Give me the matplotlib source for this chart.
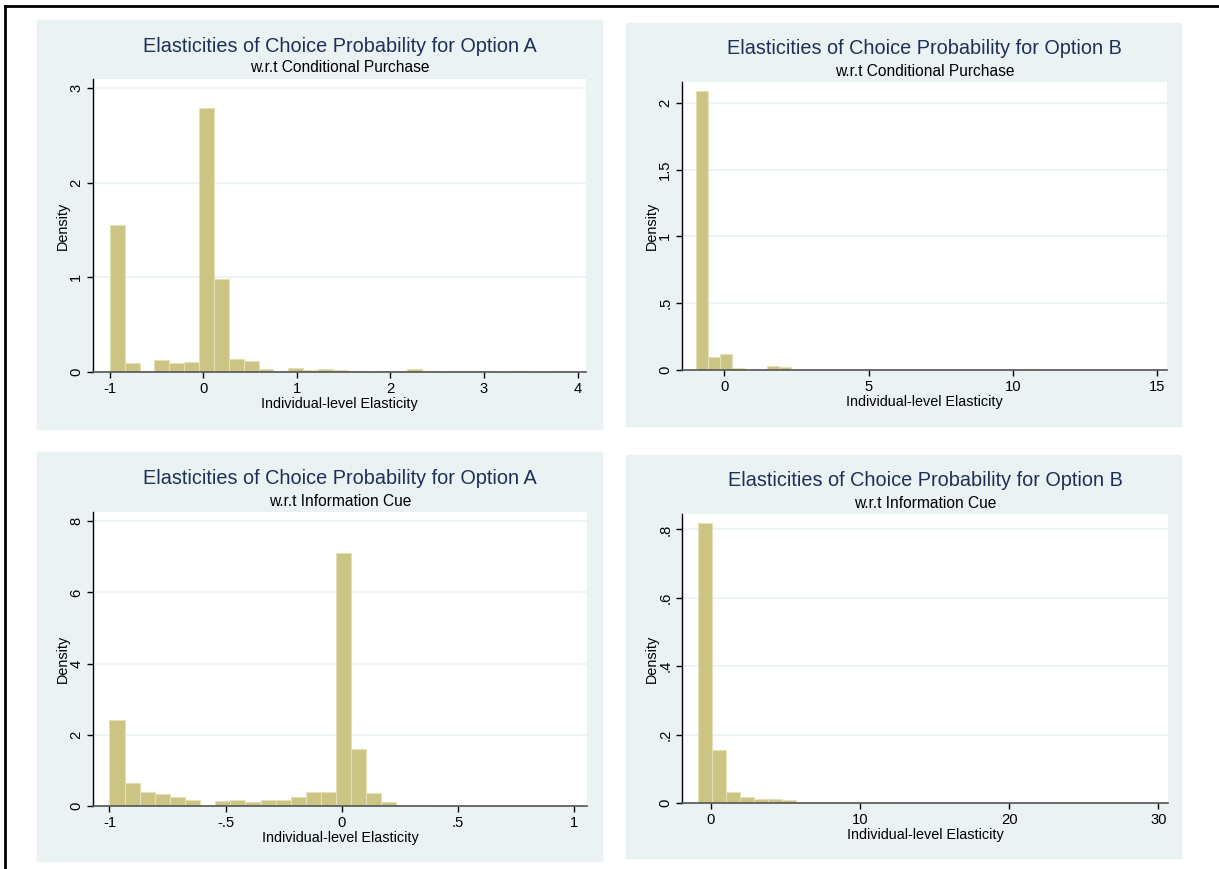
import matplotlib.pyplot as plt
import numpy as np
from matplotlib.patches import Rectangle
from matplotlib.lines import Line2D

plt.rcParams['font.family'] = ['Liberation Sans', 'DejaVu Sans']

W, H = 1219, 869

# ---- data ----
titles = ["Elasticities of Choice Probability for Option A",
          "Elasticities of Choice Probability for Option B",
          "Elasticities of Choice Probability for Option A",
          "Elasticities of Choice Probability for Option B"]
subtitles = ["w.r.t Conditional Purchase", "w.r.t Conditional Purchase",
             "w.r.t Information Cue", "w.r.t Information Cue"]

# histogram bins: start, width (31 bins each)
bin_start = [-1.0, -0.97, -1.0, -0.84]
bin_width = [0.159, 0.41, 0.065, 0.94]

dens_a_purchase = [1.556, 0.095, 0.01, 0.123, 0.092, 0.106, 2.79, 0.979, 0.134, 0.113,
                   0.028, 0.01, 0.039, 0.018, 0.028, 0.018, 0.014, 0, 0.01, 0.01,
                   0.03, 0.012, 0, 0.008, 0.008, 0.008, 0, 0.01, 0.005, 0, 0.01]
dens_b_purchase = [2.09, 0.10, 0.12, 0.017, 0.0075, 0.002, 0.027, 0.022, 0.002, 0.002,
                   0.002, 0.002, 0.002, 0, 0, 0, 0, 0, 0, 0,
                   0.002, 0.002, 0, 0.002, 0, 0, 0, 0, 0.01, 0.002, 0.002]
dens_a_cue = [2.43, 0.66, 0.39, 0.34, 0.25, 0.17, 0.025, 0.15, 0.18, 0.12,
              0.16, 0.16, 0.24, 0.385, 0.385, 7.10, 1.59, 0.37, 0.10, 0.035,
              0.02, 0.01, 0, 0.008, 0.01, 0.004, 0, 0, 0, 0, 0.01]
dens_b_cue = [0.818, 0.156, 0.032, 0.0185, 0.0117, 0.0117, 0.008, 0.0015, 0.0015, 0.0015,
              0, 0.0015, 0.0015, 0, 0, 0, 0, 0, 0, 0,
              0, 0, 0, 0, 0, 0, 0.0015, 0, 0.0015, 0.0015, 0.0015]
densities = [dens_a_purchase, dens_b_purchase, dens_a_cue, dens_b_cue]

xticks = [[-1, 0, 1, 2, 3, 4], [0, 5, 10, 15], [-1, -0.5, 0, 0.5, 1], [0, 10, 20, 30]]
xticklabels = [["-1", "0", "1", "2", "3", "4"], ["0", "5", "10", "15"],
               ["-1", "-.5", "0", ".5", "1"], ["0", "10", "20", "30"]]
yticks = [[0, 1, 2, 3], [0, 0.5, 1, 1.5, 2], [0, 2, 4, 6, 8], [0, 0.2, 0.4, 0.6, 0.8]]
yticklabels = [["0", "1", "2", "3"], ["0", ".5", "1", "1.5", "2"],
               ["0", "2", "4", "6", "8"], ["0", ".2", ".4", ".6", ".8"]]
xlims = [(-1.18, 4.09), (-1.46, 15.33), (-1.071, 1.055), (-1.92, 30.65)]
ylims = [(0, 3.095), (0, 2.155), (0, 8.26), (0, 0.845)]

# ---- layout in pixels ----
panels = [(37, 20, 602, 429), (626, 23, 1181, 426), (37, 452, 602, 861), (626, 455, 1181, 858)]
plots = [(93, 79, 586, 372), (682, 82, 1167, 370), (93, 512, 587, 806), (682, 514, 1168, 803)]

bg = '#eaf2f3'
bar_color = '#cbc482'
title_color = '#1e2f5a'

fig = plt.figure(figsize=(W / 100, H / 100), dpi=100)


def fx(x):
    return x / W


def fy(y):
    return 1 - y / H


# outer frame (only top and left visible)
fig.add_artist(Line2D([fx(5), fx(5)], [fy(6), 0], color='black', lw=2, transform=fig.transFigure))
fig.add_artist(Line2D([fx(5), 1], [fy(6), fy(6)], color='black', lw=2, transform=fig.transFigure))

for i in range(4):
    x0, y0, x1, y1 = panels[i]
    fig.add_artist(Rectangle((fx(x0), fy(y1)), (x1 - x0) / W, (y1 - y0) / H,
                             transform=fig.transFigure, color=bg, zorder=0))
    px0, py0, px1, py1 = plots[i]
    ax = fig.add_axes([fx(px0), fy(py1), (px1 - px0) / W, (py1 - py0) / H])
    ax.set_facecolor('white')

    d = densities[i]
    edges = bin_start[i] + bin_width[i] * np.arange(len(d))
    ax.bar(edges, d, width=bin_width[i], align='edge', color=bar_color,
           edgecolor='#e4e0b8', linewidth=0.8, zorder=2)

    ax.set_xlim(*xlims[i])
    ax.set_ylim(*ylims[i])
    ax.set_xticks(xticks[i])
    ax.set_xticklabels(xticklabels[i], fontsize=10.6)
    ax.set_yticks(yticks[i])
    ax.set_yticklabels(yticklabels[i], fontsize=10.6, rotation=90, va='center')
    ax.grid(axis='y', color=bg, lw=1.2, zorder=1)
    ax.set_axisbelow(True)

    for s in ['top', 'right']:
        ax.spines[s].set_visible(False)
    ax.spines['left'].set_color('black')
    ax.spines['bottom'].set_color('#555555')
    ax.spines['left'].set_linewidth(1)
    ax.spines['bottom'].set_linewidth(1.2)
    ax.tick_params(length=4, width=1, color='black', pad=3)

    ax.set_xlabel("Individual-level Elasticity", fontsize=10.4, labelpad=1)
    ax.set_ylabel("Density", fontsize=10.4, labelpad=-0.5)

    cx = (px0 + px1) / 2
    fig.text(fx(cx), fy(py0 - 33), titles[i], ha='center', va='center',
             fontsize=14.3, color=title_color)
    fig.text(fx(cx), fy(py0 - 11), subtitles[i], ha='center', va='center',
             fontsize=11.2, color='black')

plt.savefig('out.png', dpi=100)
